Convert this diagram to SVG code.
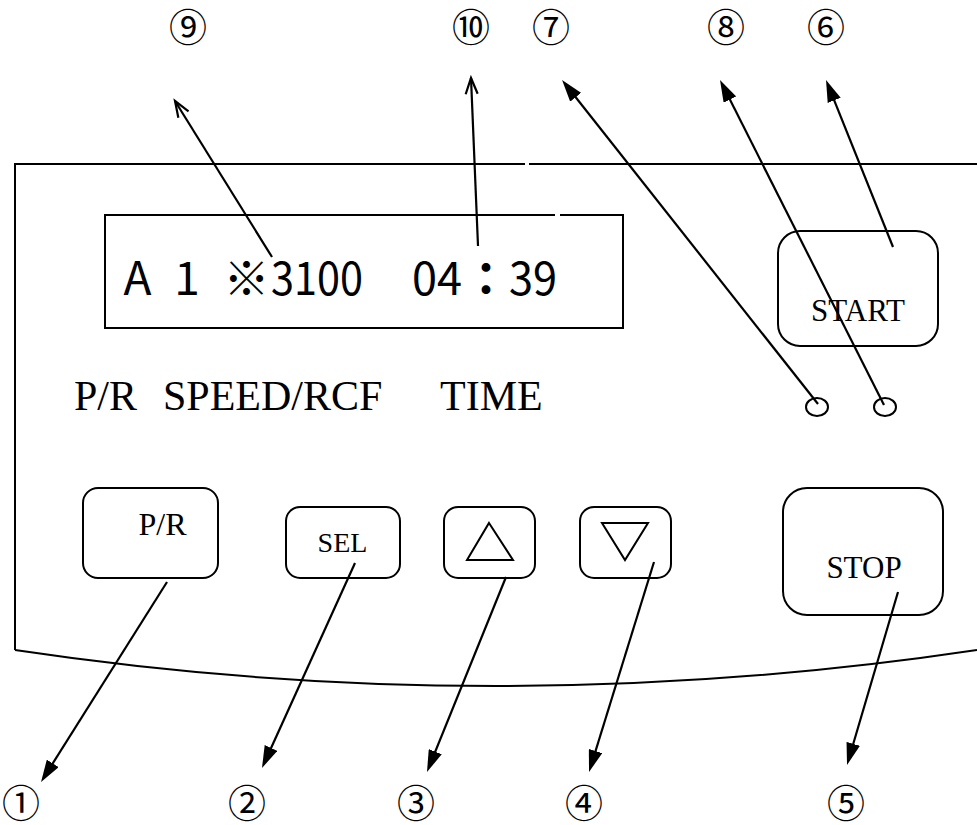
<svg xmlns="http://www.w3.org/2000/svg" width="977" height="825" viewBox="0 0 977 825">
<style>
.ln{fill:none;stroke:#000;stroke-width:2}
.btn{fill:none;stroke:#000;stroke-width:2}
.ar{fill:none;stroke:#000;stroke-width:2.2}
.serif{font-family:"Liberation Serif","Times New Roman",serif;fill:#000}
.lcd{font-family:"Noto Sans CJK JP","Noto Sans",sans-serif;fill:#000;font-size:46px}
.num{font-family:"Noto Sans CJK JP","Noto Sans CJK SC",sans-serif;fill:#000;font-size:38px;text-anchor:middle}
</style>
<defs>
<marker id="tri" viewBox="0 0 22 14" refX="14" refY="7" markerWidth="22" markerHeight="14" markerUnits="userSpaceOnUse" orient="auto">
<path d="M0,0 L22,7 L0,14 z" fill="#000"/>
</marker>
<marker id="vee" viewBox="-2 -2 20 16" refX="16" refY="6" markerWidth="20" markerHeight="16" markerUnits="userSpaceOnUse" orient="auto" overflow="visible">
<path d="M0,0 L16,6 L0,12" fill="none" stroke="#000" stroke-width="2.2"/>
</marker>
</defs>

<g id="panel">
<path class="ln" d="M15,650 V164 H525 M529,164 H977"/>
<path class="ln" d="M15,650 Q496,722 977,650"/>
</g>

<g id="display">
<path class="ln" d="M555,215 H105 V328 H623 V215 H560"/>
<text class="lcd" x="137.5" y="295" text-anchor="middle">A</text>
<text class="lcd" x="187" y="295" text-anchor="middle">1</text>
<text class="lcd" x="246.5" y="295" text-anchor="middle">※</text>
<text class="lcd" x="271" y="295" textLength="92" lengthAdjust="spacingAndGlyphs">3100</text>
<text class="lcd" x="412" y="295" textLength="50" lengthAdjust="spacingAndGlyphs">04</text>
<text class="lcd" x="486" y="295" text-anchor="middle" font-weight="bold">：</text>
<text class="lcd" x="509" y="295" textLength="48" lengthAdjust="spacingAndGlyphs">39</text>
</g>

<g id="labels">
<text class="serif" x="74" y="410" font-size="42">P/R</text>
<text class="serif" x="163" y="410" font-size="42">SPEED/RCF</text>
<text class="serif" x="440" y="410" font-size="42">TIME</text>
</g>

<g id="btn-start">
<rect class="btn" x="778" y="231" width="160" height="115" rx="22"/>
<text class="serif" x="858" y="321" font-size="31" text-anchor="middle">START</text>
</g>

<g id="led-1"><ellipse class="btn" cx="817" cy="407" rx="11" ry="9"/></g>
<g id="led-2"><ellipse class="btn" cx="885" cy="407" rx="11" ry="9"/></g>

<g id="btn-pr">
<rect class="btn" x="83" y="488" width="135" height="90" rx="15"/>
<text class="serif" x="162.5" y="535" font-size="32" text-anchor="middle">P/R</text>
</g>

<g id="btn-sel">
<rect class="btn" x="286" y="507" width="114" height="71" rx="14"/>
<text class="serif" x="342.5" y="552" font-size="28" text-anchor="middle">SEL</text>
</g>

<g id="btn-up">
<rect class="btn" x="444" y="507" width="91" height="71" rx="14"/>
<path class="btn" d="M489,523 L513,560 H467 Z"/>
</g>

<g id="btn-down">
<rect class="btn" x="580" y="507" width="91" height="71" rx="14"/>
<path class="btn" d="M602,523 H648 L625,560 Z"/>
</g>

<g id="btn-stop">
<rect class="btn" x="783" y="488" width="160" height="127" rx="24"/>
<text class="serif" x="864" y="578" font-size="31" text-anchor="middle">STOP</text>
</g>

<g id="connectors">
<line class="ar" x1="272" y1="257" x2="175" y2="101" marker-end="url(#vee)"/>
<line class="ar" x1="478" y1="246" x2="471" y2="78" marker-end="url(#vee)"/>
<line class="ar" x1="818" y1="404" x2="567" y2="86.3" marker-end="url(#tri)"/>
<line class="ar" x1="884" y1="405" x2="723.6" y2="87.1" marker-end="url(#tri)"/>
<line class="ar" x1="893" y1="247" x2="829" y2="87.4" marker-end="url(#tri)"/>
<line class="ar" x1="167" y1="582" x2="45.3" y2="775.2" marker-end="url(#tri)"/>
<line class="ar" x1="355" y1="563" x2="265.3" y2="760.7" marker-end="url(#tri)"/>
<line class="ar" x1="506" y1="577" x2="430" y2="764.6" marker-end="url(#tri)"/>
<line class="ar" x1="654" y1="562" x2="591.4" y2="764.4" marker-end="url(#tri)"/>
<line class="ar" x1="898" y1="592" x2="849.3" y2="757.3" marker-end="url(#tri)"/>
</g>

<g id="callouts">
<text class="num" x="188" y="41">⑨</text>
<text class="num" x="471" y="41">⑩</text>
<text class="num" x="551" y="41">⑦</text>
<text class="num" x="726" y="41">⑧</text>
<text class="num" x="826" y="41">⑥</text>
<text class="num" x="21" y="817">①</text>
<text class="num" x="247" y="817">②</text>
<text class="num" x="416" y="817">③</text>
<text class="num" x="584" y="817">④</text>
<text class="num" x="846" y="817">⑤</text>
</g>
</svg>
